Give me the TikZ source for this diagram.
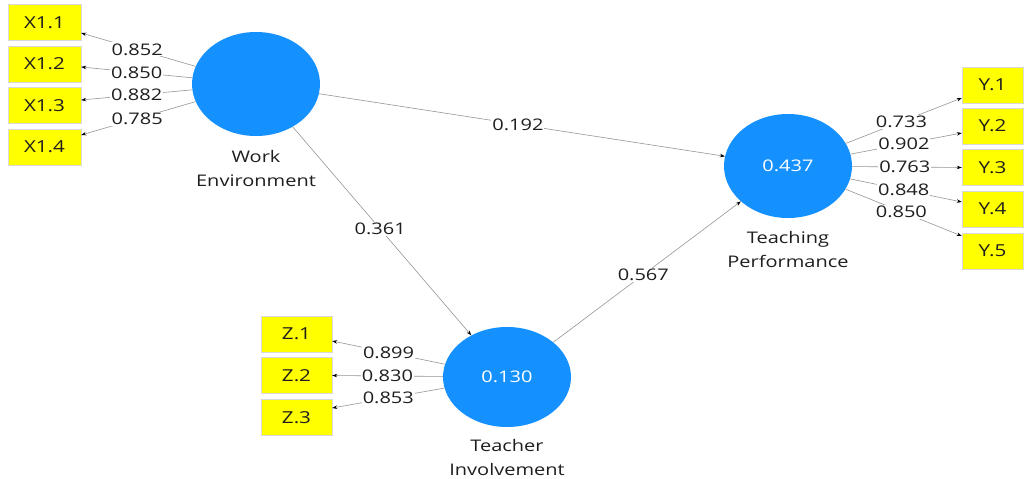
\documentclass[tikz,border=0pt]{standalone}
\usepackage{fontspec}
\newfontfamily\lab[FakeStretch=1.25]{Open Sans}
\usetikzlibrary{shapes.geometric,arrows.meta}
\definecolor{lvblue}{RGB}{20,145,255}
\definecolor{indy}{RGB}{255,255,0}
\definecolor{edge}{RGB}{150,150,150}
\definecolor{txt}{RGB}{30,30,30}
\tikzset{
  lv/.style={ellipse,fill=lvblue,minimum width=128pt,minimum height=104pt,inner sep=0pt,text=white,font=\lab\fontsize{16}{18}\selectfont},
  ind/.style={rectangle,fill=indy,draw=black!15,line width=0.4pt,minimum height=36pt,inner sep=0pt,text=txt,font=\lab\fontsize{16.5}{18}\selectfont},
  xbox/.style={ind,minimum width=73pt},
  ybox/.style={ind,minimum width=61pt},
  zbox/.style={ind,minimum width=71pt},
  lvname/.style={align=center,font=\lab\fontsize{16}{24}\selectfont,text=txt},
  conn/.style={draw=edge,line width=0.6pt,-{Stealth[length=5pt,width=3.5pt,black]}},
  wt/.style={fill=white,inner sep=1pt,text=txt,font=\lab\fontsize{16}{18}\selectfont}
}
\begin{document}
\begin{tikzpicture}[x=1pt,y=-1pt]
\useasboundingbox[fill=white] (0,0) rectangle (1026,479);
% latent variables
\node[lv] (we) at (256,84) {};
\node[lv] (tp) at (788,166) {0.437};
\node[lv,minimum height=100pt] (ti) at (507,377) {0.130};
\node[lvname] (wen) at (256,168) {Work\\Environment};
\node[lvname] (tpn) at (788,249) {Teaching\\Performance};
\node[lvname] (tin) at (507,457) {Teacher\\Involvement};
% indicators
\node[xbox] (x11) at (44.5,22.5) {X1.1};
\node[xbox] (x12) at (44.5,64) {X1.2};
\node[xbox] (x13) at (44.5,105.5) {X1.3};
\node[xbox] (x14) at (44.5,147) {X1.4};
\node[ybox] (y1) at (992.5,85) {Y.1};
\node[ybox] (y2) at (992.5,126) {Y.2};
\node[ybox] (y3) at (992.5,167.5) {Y.3};
\node[ybox] (y4) at (992.5,209) {Y.4};
\node[ybox] (y5) at (992.5,251) {Y.5};
\node[zbox] (z1) at (296.5,334) {Z.1};
\node[zbox] (z2) at (296.5,375.5) {Z.2};
\node[zbox] (z3) at (296.5,417.5) {Z.3};
% outer loadings
\draw[conn] (we) -- node[wt,pos=0.51]{0.852} ([yshift=-10.5pt]x11.east);
\draw[conn] (we) -- node[wt,pos=0.50]{0.850} ([yshift=-3pt]x12.east);
\draw[conn] (we) -- node[wt,pos=0.50]{0.882} ([yshift=5.5pt]x13.east);
\draw[conn] (we) -- node[wt,pos=0.51]{0.785} ([yshift=12pt]x14.east);
\draw[conn] (tp) -- node[wt,pos=0.48]{0.733} ([yshift=-13pt]y1.west);
\draw[conn] (tp) -- node[wt,pos=0.48]{0.902} ([yshift=-7pt]y2.west);
\draw[conn] (tp) -- node[wt,pos=0.48]{0.763} (y3.west);
\draw[conn] (tp) -- node[wt,pos=0.48]{0.848} ([yshift=7pt]y4.west);
\draw[conn] (tp) -- node[wt,pos=0.48]{0.850} ([yshift=15pt]y5.west);
\draw[conn] (ti) -- node[wt,pos=0.50]{0.899} ([yshift=-7pt]z1.east);
\draw[conn] (ti) -- node[wt,pos=0.50]{0.830} (z2.east);
\draw[conn] (ti) -- node[wt,pos=0.50]{0.853} ([yshift=9.5pt]z3.east);
% structural paths
\draw[conn] (we) -- node[wt,pos=0.49]{0.192} (tp);
\draw[conn] (we) -- node[wt,pos=0.49]{0.361} (ti);
\draw[conn] (ti) -- node[wt,pos=0.48]{0.567} (tp);
\end{tikzpicture}
\end{document}
